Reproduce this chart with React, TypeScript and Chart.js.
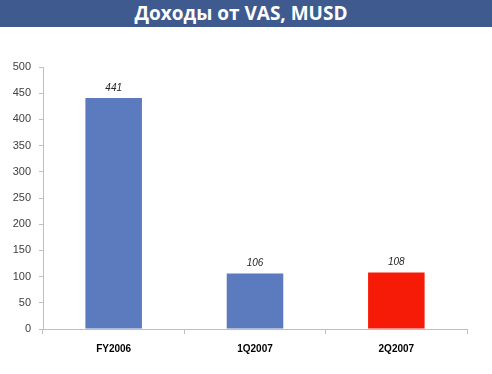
import React, { useEffect, useRef } from "react";
import { Chart, registerables } from "chart.js";

Chart.register(...registerables);

const categories = ["FY2006", "1Q2007", "2Q2007"];
const revenues = [441, 106, 108];
const barColors = ["#5B7BBE", "#5B7BBE", "#F61B06"];
const yTicks = [0, 50, 100, 150, 200, 250, 300, 350, 400, 450, 500];
const titleText = "Доходы от VAS, MUSD";

const valueLabels = {
  id: "valueLabels",
  afterDatasetsDraw(chart: any) {
    const ctx = chart.ctx;
    const meta = chart.getDatasetMeta(0);
    ctx.save();
    ctx.font = "italic 10px 'Liberation Sans', Arial, sans-serif";
    ctx.fillStyle = "#262626";
    ctx.textAlign = "center";
    ctx.textBaseline = "middle";
    meta.data.forEach((bar: any, i: number) => {
      ctx.fillText(String(revenues[i]), bar.x, bar.y - 10);
    });
    ctx.restore();
  },
};

export default function App() {
  const ref = useRef<HTMLCanvasElement>(null);
  useEffect(() => {
    if (!ref.current) return;
    const chart = new Chart(ref.current, {
      type: "bar",
      data: {
        labels: categories,
        datasets: [
          {
            data: revenues,
            backgroundColor: barColors,
            borderWidth: 0,
            categoryPercentage: 1,
            barPercentage: 0.4,
          },
        ],
      },
      options: {
        animation: false,
        responsive: false,
        maintainAspectRatio: false,
        layout: { padding: { top: 67, right: 25, left: 0, bottom: 0 } },
        plugins: { legend: { display: false }, tooltip: { enabled: false }, title: { display: false } },
        scales: {
          x: {
            offset: true,
            grid: {
              display: true,
              offset: true,
              drawOnChartArea: false,
              drawTicks: true,
              tickLength: 5,
              color: "#BFBFBF",
            },
            border: { display: true, color: "#BFBFBF" },
            ticks: {
              padding: 9,
              color: "#000000",
              font: { family: "'Liberation Sans', Arial, sans-serif", size: 10, weight: "bold" },
            },
            afterFit: (s: any) => {
              s.height = 45;
            },
          },
          y: {
            min: 0,
            max: 500,
            afterBuildTicks: (s: any) => {
              s.ticks = yTicks.map((v) => ({ value: v }));
            },
            grid: {
              display: true,
              drawOnChartArea: false,
              drawTicks: true,
              tickLength: 4,
              color: "#BFBFBF",
            },
            border: { display: true, color: "#BFBFBF" },
            ticks: {
              padding: 8,
              color: "#404040",
              font: { family: "'Liberation Sans', Arial, sans-serif", size: 11 },
            },
            afterFit: (s: any) => {
              s.width = 43;
            },
          },
        },
      },
      plugins: [valueLabels],
    });
    return () => chart.destroy();
  }, []);

  return (
    <div style={{ position: "fixed", left: 0, top: 0, width: 492, height: 374, background: "#ffffff" }}>
      <canvas ref={ref} width={492} height={374} style={{ position: "absolute", left: 0, top: 0, width: 492, height: 374 }} />
      <div
        style={{
          position: "absolute",
          left: 0,
          top: 0,
          width: 492,
          height: 27,
          background: "#3F5A8E",
          color: "#ffffff",
          fontFamily: "'Open Sans', 'Noto Sans', sans-serif",
          fontWeight: "bold",
          fontSize: 19,
          lineHeight: "27px",
          textAlign: "center",
          paddingRight: 10,
          boxSizing: "border-box",
          whiteSpace: "nowrap",
        }}
      >
        {titleText}
      </div>
    </div>
  );
}
